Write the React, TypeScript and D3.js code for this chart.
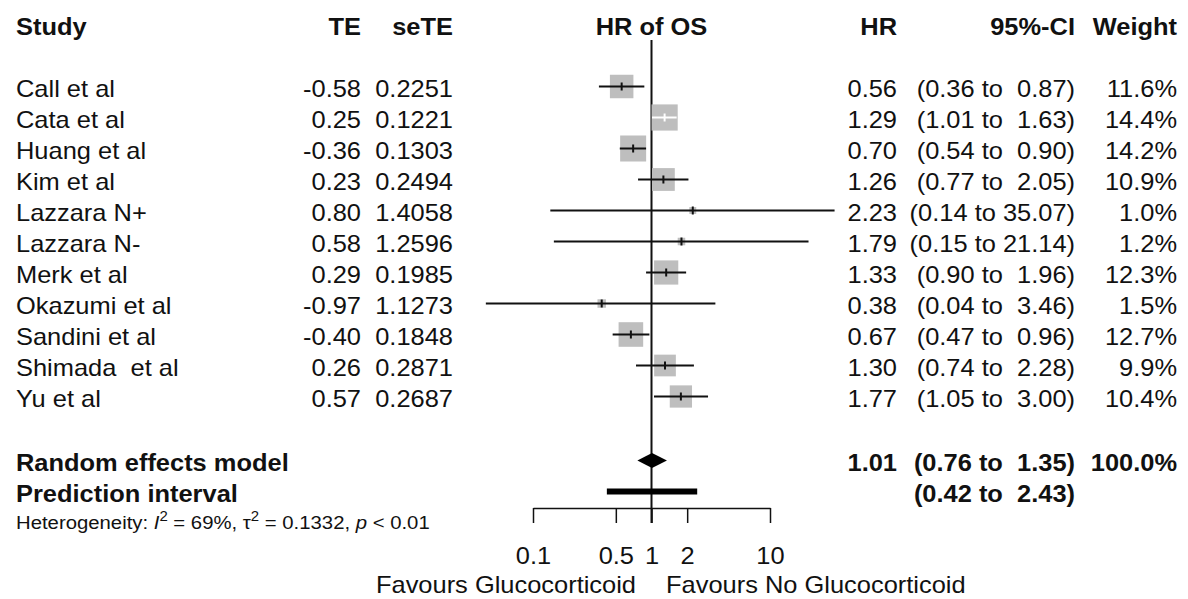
import React, { useEffect, useRef } from 'react';
import * as d3 from 'd3';

// study rows
const studies = ['Call et al', 'Cata et al', 'Huang et al', 'Kim et al', 'Lazzara N+', 'Lazzara N-', 'Merk et al', 'Okazumi et al', 'Sandini et al', 'Shimada  et al', 'Yu et al'];
const te = [-0.58, 0.25, -0.36, 0.23, 0.8, 0.58, 0.29, -0.97, -0.4, 0.26, 0.57];
const seTE = [0.2251, 0.1221, 0.1303, 0.2494, 1.4058, 1.2596, 0.1985, 1.1273, 0.1848, 0.2871, 0.2687];
const hr = [0.56, 1.29, 0.7, 1.26, 2.23, 1.79, 1.33, 0.38, 0.67, 1.3, 1.77];
const lower = [0.36, 1.01, 0.54, 0.77, 0.14, 0.15, 0.9, 0.04, 0.47, 0.74, 1.05];
const upper = [0.87, 1.63, 0.9, 2.05, 35.07, 21.14, 1.96, 3.46, 0.96, 2.28, 3.0];
const weight = [11.6, 14.4, 14.2, 10.9, 1.0, 1.2, 12.3, 1.5, 12.7, 9.9, 10.4];

// pooled estimates
const randomEffect = { hr: 1.01, lower: 0.76, upper: 1.35, weight: 100.0 };
const predInterval = { lower: 0.42, upper: 2.43 };

const tickValues = [0.1, 0.5, 1, 2, 10];

const FONT = '"Liberation Sans", Arial, sans-serif';
const SX = 1.06;
const INK = '#111';

const fmtCI = (lo: number, up: number) => `(${lo.toFixed(2)} to ${up.toFixed(2).padStart(5, ' ')})`;

const App = () => {
  const ref = useRef<SVGSVGElement>(null);

  useEffect(() => {
    const svg = d3.select(ref.current);
    svg.selectAll('*').remove();

    const width = 1188, height = 599;
    svg.attr('width', width).attr('height', height);

    const x = d3.scaleLog().domain([0.1, 10]).range([533, 770]);
    const row0 = 97, step = 31;
    const base = (i: number) => row0 + i * step;
    const mid = (b: number) => b - 10.5;

    const put = (str: string, px: number, py: number, anchor = 'start', bold = false, size = 24) =>
      svg.append('text')
        .attr('transform', `translate(${px},${py}) scale(${SX},1)`)
        .attr('text-anchor', anchor)
        .attr('font-family', FONT)
        .attr('font-size', size)
        .attr('font-weight', bold ? 'bold' : 'normal')
        .attr('fill', INK)
        .style('white-space', 'pre')
        .text(str);

    // headers
    const hy = 35;
    put('Study', 16, hy, 'start', true);
    put('TE', 361, hy, 'end', true);
    put('seTE', 453, hy, 'end', true);
    put('HR of OS', x(1), hy, 'middle', true);
    put('HR', 897, hy, 'end', true);
    put('95%-CI', 1075, hy, 'end', true);
    put('Weight', 1177, hy, 'end', true);

    // study text columns
    studies.forEach((s, i) => {
      const b = base(i);
      put(s, 16, b);
      put(te[i].toFixed(2), 361, b, 'end');
      put(seTE[i].toFixed(4), 453, b, 'end');
      put(hr[i].toFixed(2), 897, b, 'end');
      put(fmtCI(lower[i], upper[i]), 1075, b, 'end');
      put(`${weight[i].toFixed(1)}%`, 1177, b, 'end');
    });

    const reB = 471, piB = 502, hetB = 529;
    put('Random effects model', 16, reB, 'start', true);
    put(randomEffect.hr.toFixed(2), 897, reB, 'end', true);
    put(fmtCI(randomEffect.lower, randomEffect.upper), 1075, reB, 'end', true);
    put(`${randomEffect.weight.toFixed(1)}%`, 1177, reB, 'end', true);
    put('Prediction interval', 16, piB, 'start', true);
    put(fmtCI(predInterval.lower, predInterval.upper), 1075, piB, 'end', true);

    // heterogeneity line
    const het = svg.append('text')
      .attr('transform', `translate(16,${hetB}) scale(1.07,1)`)
      .attr('font-family', FONT)
      .attr('font-size', 19)
      .attr('fill', INK)
      .style('white-space', 'pre');
    het.append('tspan').text('Heterogeneity: ');
    het.append('tspan').attr('font-style', 'italic').text('I');
    het.append('tspan').attr('font-size', 14).attr('dy', -8).text('2');
    het.append('tspan').attr('dy', 8).text(' = 69%, τ');
    het.append('tspan').attr('font-size', 14).attr('dy', -8).text('2');
    het.append('tspan').attr('dy', 8).text(' = 0.1332, ');
    het.append('tspan').attr('font-style', 'italic').text('p');
    het.append('tspan').text(' < 0.01');

    // reference line at HR = 1
    svg.append('line')
      .attr('x1', x(1)).attr('x2', x(1))
      .attr('y1', 40).attr('y2', 523)
      .attr('stroke', INK).attr('stroke-width', 2);

    // squares
    const side = (w: number) => 6.9 * Math.sqrt(w);
    const rows = studies.map((s, i) => {
      const cx = x(hr[i]);
      const sd = side(weight[i]);
      const inside = x(lower[i]) >= cx - sd / 2 && x(upper[i]) <= cx + sd / 2;
      return { i, cx, sd, y: mid(base(i)), inside };
    });

    svg.append('g').selectAll('rect')
      .data(rows)
      .join('rect')
      .attr('x', d => d.cx - d.sd / 2)
      .attr('y', d => d.y - d.sd / 2)
      .attr('width', d => d.sd)
      .attr('height', d => d.sd)
      .attr('fill', '#bebebe');

    // confidence intervals
    svg.append('g').selectAll('line')
      .data(rows)
      .join('line')
      .attr('x1', d => x(lower[d.i]))
      .attr('x2', d => x(upper[d.i]))
      .attr('y1', d => d.y)
      .attr('y2', d => d.y)
      .attr('stroke', d => (d.inside ? '#fff' : INK))
      .attr('stroke-width', 2);

    // point estimate ticks
    svg.append('g').selectAll('line')
      .data(rows)
      .join('line')
      .attr('x1', d => d.cx)
      .attr('x2', d => d.cx)
      .attr('y1', d => d.y - 4)
      .attr('y2', d => d.y + 4)
      .attr('stroke', d => (d.inside ? '#fff' : INK))
      .attr('stroke-width', 2);

    // random effects diamond
    const dy = mid(reB);
    svg.append('path')
      .attr('d', d3.line()([
        [x(randomEffect.lower), dy],
        [x(randomEffect.hr), dy - 7.5],
        [x(randomEffect.upper), dy],
        [x(randomEffect.hr), dy + 7.5],
      ]) + 'Z')
      .attr('fill', '#000');

    // prediction interval bar
    const py = mid(piB);
    svg.append('rect')
      .attr('x', x(predInterval.lower))
      .attr('y', py - 3)
      .attr('width', x(predInterval.upper) - x(predInterval.lower))
      .attr('height', 6)
      .attr('fill', '#000');

    // axis
    const axis = svg.append('g')
      .attr('transform', 'translate(0,508)')
      .call(d3.axisBottom(x).tickValues(tickValues).tickFormat(d => String(d)).tickSize(15).tickSizeOuter(0).tickPadding(24));
    axis.select('.domain').attr('stroke', INK).attr('stroke-width', 1.5);
    axis.selectAll('.tick line').attr('stroke', INK).attr('stroke-width', 1.5);
    axis.selectAll('.tick text')
      .attr('font-family', FONT)
      .attr('font-size', 24)
      .attr('fill', INK)
      .attr('transform', `scale(${SX},1)`);

    put('Favours Glucocorticoid', 636, 593, 'end');
    put('Favours No Glucocorticoid', 666, 593, 'start');
  }, []);

  return (
    <div style={{ position: 'absolute', left: 0, top: 0, background: '#fff' }}>
      <svg ref={ref} style={{ display: 'block' }} />
    </div>
  );
};

export default App;
